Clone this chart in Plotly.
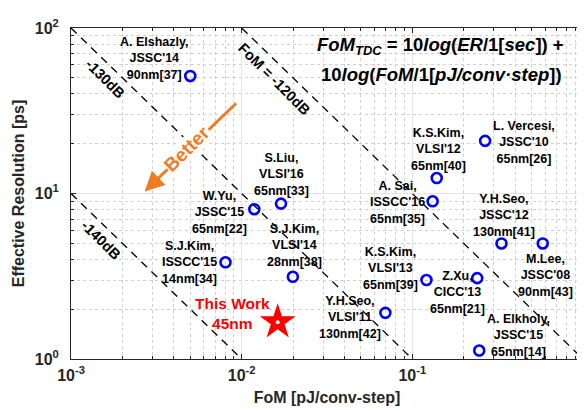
import numpy as np
import plotly.graph_objects as go

# ---------------- data ----------------
labels = [
    "A. Elshazly,<br>JSSC'14<br>90nm[37]",
    "S.Liu,<br>VLSI'16<br>65nm[33]",
    "W.Yu,<br>JSSC'15<br>65nm[22]",
    "S.J.Kim,<br>ISSCC'15<br>14nm[34]",
    "S.J.Kim,<br>VLSI'14<br>28nm[38]",
    "K.S.Kim,<br>VLSI'12<br>65nm[40]",
    "L. Vercesi,<br>JSSC'10<br>65nm[26]",
    "A. Sai,<br>ISSCC'16<br>65nm[35]",
    "Y.H.Seo,<br>JSSC'12<br>130nm[41]",
    "M.Lee,<br>JSSC'08<br>90nm[43]",
    "K.S.Kim,<br>VLSI'13<br>65nm[39]",
    "Z.Xu,<br>CICC'13<br>65nm[21]",
    "Y.H.Seo,<br>VLSI'11<br>130nm[42]",
    "A. Elkholy,<br>JSSC'15<br>65nm[14]",
]
fom_pj = [0.0050, 0.0170, 0.01186, 0.00804, 0.01995, 0.139, 0.267, 0.1315,
          0.333, 0.581, 0.121, 0.240, 0.0695, 0.2466]
er_ps = [51.3, 8.69, 8.04, 3.84, 3.14, 12.4, 20.8, 8.97,
         4.99, 4.99, 3.00, 3.08, 1.90, 1.125]

this_label = "This Work<br>45nm"
this_fom = [0.01626]
this_er = [1.67]

fom_levels_db = [-120, -130, -140]
line_labels = ["FoM = -120dB", "-130dB", "-140dB"]
x_tick_vals = [1e-3, 1e-2, 1e-1, 1e0]
x_tick_text = ["10<sup>-3</sup>", "10<sup>-2</sup>", "10<sup>-1</sup>", "10<sup>0</sup>"]
y_tick_vals = [1e0, 1e1, 1e2]
y_tick_text = ["10<sup>0</sup>", "10<sup>1</sup>", "10<sup>2</sup>"]
minor_digits = [2, 3, 4, 5, 6, 7, 8, 9]
x_minor_vals = [d * m for m in [1e-3, 1e-2, 1e-1] for d in minor_digits]
y_minor_vals = [d * m for m in [1e0, 1e1] for d in minor_digits]

# ---------------- layout/style (pixel offsets of labels) ----------------
label_shift = [(-36, 17.5), (0.7, 29.3), (-34.7, -3), (-35.7, -0.7), (1.7, 31),
               (1.3, 28.3), (39, -1.7), (-35.3, -1), (2.7, 28), (2.3, -32),
               (-36, 11.3), (-20, -14.7), (-35, -5), (39, 15.3)]
this_shift = (-45, 8.3)
line_label_pos = [(0.01552, 49.2), (0.00159, 49.2), (0.00150, 5.25)]

FONT = "Liberation Sans, Arial, sans-serif"
DARK = "#262626"
ORANGE = "#EF7B22"

fig = go.Figure()

# FoM iso-lines: ER[ps]*1e-12 * FoM[pJ] = 10^(dB/10)
xs = np.array([1e-3, 1e0])
for db in fom_levels_db:
    ys = 10 ** (db / 10) / (xs * 1e-12)
    fig.add_trace(go.Scatter(x=xs, y=ys, mode="lines",
                             line=dict(color="black", width=1.3, dash="8px,6px"),
                             hoverinfo="skip", showlegend=False))

fig.add_trace(go.Scatter(x=fom_pj, y=er_ps, mode="markers",
                         marker=dict(symbol="circle-open", size=10, color="#0000FF",
                                     line=dict(width=2.6, color="#0000FF")),
                         showlegend=False))
fig.add_trace(go.Scatter(x=this_fom, y=this_er, mode="markers",
                         marker=dict(symbol="star", size=27, color="#FF0000",
                                     line=dict(width=0)),
                         showlegend=False))
fig.add_trace(go.Scatter(x=this_fom, y=this_er, mode="markers",
                         marker=dict(symbol="circle", size=4, color="white",
                                     line=dict(width=0)),
                         showlegend=False))

ann = []
for lab, fx, fy, (dx, dy) in zip(labels, fom_pj, er_ps, label_shift):
    ann.append(dict(x=np.log10(fx), y=np.log10(fy), xref="x", yref="y", text=lab,
                    showarrow=False, xshift=dx, yshift=dy, align="center",
                    font=dict(family=FONT, size=12.5, color="black", weight="bold")))
ann.append(dict(x=np.log10(this_fom[0]), y=np.log10(this_er[0]), xref="x", yref="y",
                text=this_label, showarrow=False, xshift=this_shift[0], yshift=this_shift[1],
                align="center", font=dict(family=FONT, size=15.5, color="#FF0000", weight="bold")))

for txt, (lx, ly) in zip(line_labels, line_label_pos):
    ann.append(dict(x=np.log10(lx), y=np.log10(ly), xref="x", yref="y", text=txt,
                    showarrow=False, textangle=45,
                    font=dict(family=FONT, size=14.5, color="black", weight="bold")))

# Better arrow
ann.append(dict(x=np.log10(0.00270), y=np.log10(10.3), ax=np.log10(0.00948), ay=np.log10(35.8),
                xref="x", yref="y", axref="x", ayref="y", text="", showarrow=True,
                arrowcolor=ORANGE, arrowwidth=3, arrowhead=2, arrowsize=1.3))
ann.append(dict(x=np.log10(0.00480), y=np.log10(18.7), xref="x", yref="y", text="Better",
                showarrow=False, textangle=-45, bgcolor="white", borderpad=0,
                font=dict(family=FONT, size=19, color=ORANGE, weight="bold")))

# Title formula
title_font = dict(family=FONT, size=18.5, color="black", weight="bold")
ann.append(dict(x=(433 - 63) / 513, y=(351 - 31) / 338, xref="paper", yref="paper",
                text="<i>FoM<sub>TDC</sub></i> = 10<i>log</i>(<i>ER</i>/1[<i>sec</i>]) +",
                showarrow=False, xanchor="center", yanchor="middle", font=title_font))
ann.append(dict(x=(434 - 63) / 513, y=(351 - 60) / 338, xref="paper", yref="paper",
                text="10<i>log</i>(<i>FoM</i>/1[<i>pJ/conv\u00b7step</i>])",
                showarrow=False, xanchor="center", yanchor="middle", font=title_font))

axis_common = dict(
    type="log", showline=True, linecolor=DARK, linewidth=1, mirror="allticks",
    ticks="inside", ticklen=5, tickcolor=DARK, showgrid=True, gridcolor="#E3E3E3",
    gridwidth=1, zeroline=False,
    tickfont=dict(family=FONT, size=16, color=DARK, weight="bold"),
)
minor_common = dict(ticks="inside", ticklen=3, tickcolor=DARK, showgrid=True,
                    gridcolor="#D0D0D0", griddash="dot", gridwidth=1)

fig.update_layout(
    width=585, height=410,
    margin=dict(l=63, r=9, t=13, b=59),
    paper_bgcolor="white", plot_bgcolor="white",
    showlegend=False,
    annotations=ann,
    xaxis=dict(axis_common, range=[-3, 0], tickvals=x_tick_vals, ticktext=x_tick_text,
               ticklabelstandoff=2, minor=dict(minor_common, tickvals=x_minor_vals),
               title=dict(text="FoM [pJ/conv-step]", standoff=8,
                          font=dict(family=FONT, size=16, color=DARK, weight="bold"))),
    yaxis=dict(axis_common, range=[0, 2], tickvals=y_tick_vals, ticktext=y_tick_text,
               ticklabelstandoff=8, minor=dict(minor_common, tickvals=y_minor_vals),
               title=dict(text="Effective Resolution [ps]", standoff=6,
                          font=dict(family=FONT, size=16, color=DARK, weight="bold"))),
)

fig.write_html("out.html")
